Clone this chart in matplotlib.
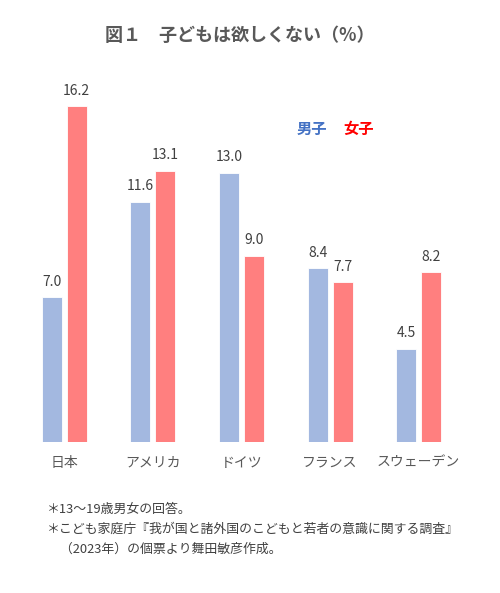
import matplotlib
matplotlib.use("Agg")
import matplotlib.pyplot as plt
import numpy as np

plt.rcParams['font.family'] = ['Noto Sans CJK JP', 'DejaVu Sans']

categories = ["日本", "アメリカ", "ドイツ", "フランス", "スウェーデン"]
boys = [7.0, 11.6, 13.0, 8.4, 4.5]
girls = [16.2, 13.1, 9.0, 7.7, 8.2]
title = "図１　子どもは欲しくない（%）"
notes = ["＊13〜19歳男女の回答。",
         "＊こども家庭庁『我が国と諸外国のこどもと若者の意識に関する調査』",
         "　（2023年）の個票より舞田敏彦作成。"]

W, H = 500, 593
fig = plt.figure(figsize=(W / 100, H / 100), dpi=100)
# axes in pixel coords: x 20..463, y bottom 442, top 69 (ylim 0..18)
ax = fig.add_axes([20 / W, 1 - 442 / H, 443 / W, (442 - 69) / H])

blue = "#A3B8E0"
red = "#FF7F7F"
x = np.arange(len(categories))
bw = 0.225
off = (bw + 0.056) / 2
ax.bar(x - off, boys, bw, color=blue, edgecolor="white", linewidth=0.6)
ax.bar(x + off, girls, bw, color=red, edgecolor="white", linewidth=0.6)
for xi, v in zip(x, boys):
    ax.text(xi - off, v + 0.4, f"{v:.1f}", ha="center", va="bottom", fontsize=10, color="#404040")
for xi, v in zip(x, girls):
    ax.text(xi + off, v + 0.4, f"{v:.1f}", ha="center", va="bottom", fontsize=10, color="#404040")

ax.set_xlim(-0.5, len(categories) - 0.5)
ax.set_ylim(0, 18)
ax.set_xticks(x)
ax.set_xticklabels(categories, fontsize=10, color="#595959")
ax.tick_params(axis="x", length=0, pad=10)
ax.set_yticks([])
for s in ax.spines.values():
    s.set_visible(False)

fig.text(240 / W, 1 - 35 / H, title, ha="center", va="center", fontsize=13,
         fontweight="bold", color="#595959")
fig.text(312 / W, 1 - 129 / H, "男子", ha="center", va="center", fontsize=11,
         fontweight="bold", color="#4472C4")
fig.text(359 / W, 1 - 129 / H, "女子", ha="center", va="center", fontsize=11,
         fontweight="bold", color="#FF0000")
for i, (t, yy) in enumerate(zip(notes, [509, 529, 549])):
    fig.text(47 / W, 1 - yy / H, t, ha="left", va="center", fontsize=9.3, color="#404040")

fig.savefig("out.png", dpi=100, facecolor="white")
